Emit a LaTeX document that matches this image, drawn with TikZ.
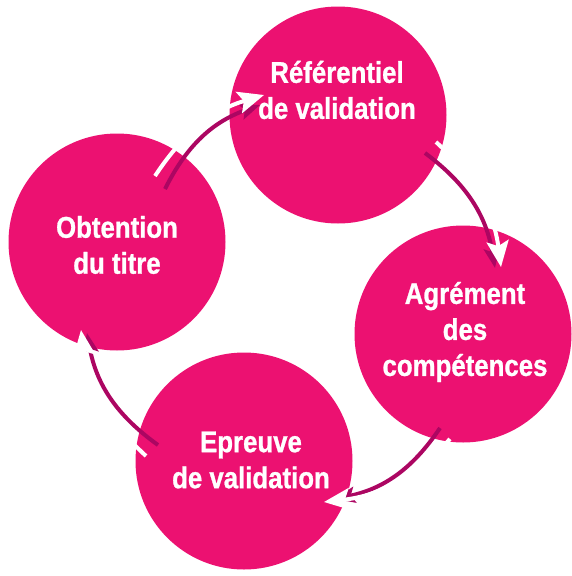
\documentclass[tikz,border=0pt]{standalone}
\usepackage{fontspec}
\setmainfont{Liberation Sans}[FakeStretch=0.86,BoldFeatures={FakeBold=0.9}]
\usetikzlibrary{arrows.meta}
\definecolor{fuchsia}{RGB}{236,17,113}
\definecolor{plum}{RGB}{172,6,98}

\begin{document}
\begin{tikzpicture}[x=1pt,y=1pt,
  disc/.style={circle,fill=fuchsia,minimum size=217pt,inner sep=0pt},
  lbl/.style={text=white,align=center,font=\fontsize{30}{36}\selectfont\bfseries},
  shadowline/.style={draw=plum,line width=4pt,-{Stealth[length=20pt,width=16pt,inset=4pt]}},
  whiteline/.style={draw=white,line width=4pt,-{Stealth[length=26pt,width=22pt,inset=5pt]}}]

\useasboundingbox (0,0) rectangle (571,-576);

\node[disc] (obt) at (117,-242) {};
\node[disc] (ref) at (338,-115) {};
\node[disc] (agr) at (463,-334) {};
\node[disc] (epr) at (244,-461) {};

\node[lbl] (obttxt) at (117,-245) {Obtention\\du titre};
\node[lbl] (reftxt) at (337,-90) {Référentiel\\de validation};
\node[lbl] (agrtxt) at (465,-332) {Agrément\\des\\compétences};
\node[lbl] (eprtxt) at (251,-460) {Epreuve\\de validation};

% ends of the arrows
\coordinate (d1a) at (165,-189);
\coordinate (d1b) at (260,-105);
\coordinate (w1a) at (155,-176);
\coordinate (w1b) at (264,-95);
\coordinate (d2a) at (425,-153);
\coordinate (d2b) at (495,-268);
\coordinate (w2a) at (436,-142);
\coordinate (w2b) at (501,-267);
\coordinate (d3a) at (440,-428);
\coordinate (d3b) at (335,-499);
\coordinate (w3a) at (450,-439);
\coordinate (w3b) at (324,-502);
\coordinate (d4a) at (158,-445);
\coordinate (d4b) at (87,-333);
\coordinate (w4a) at (146,-456);
\coordinate (w4b) at (81,-330);

\draw[shadowline] (d1a) to[bend left=22] (d1b);
\draw[shadowline] (d2a) to[bend left=22] (d2b);
\draw[shadowline] (d3a) to[bend left=22] (d3b);
\draw[shadowline] (d4a) to[bend left=22] (d4b);

\draw[whiteline] (w1a) to[bend left=20] (w1b);
\draw[whiteline] (w2a) to[bend left=20] (w2b);
\draw[whiteline] (w3a) to[bend left=20] (w3b);
\draw[whiteline] (w4a) to[bend left=20] (w4b);

\end{tikzpicture}
\end{document}
